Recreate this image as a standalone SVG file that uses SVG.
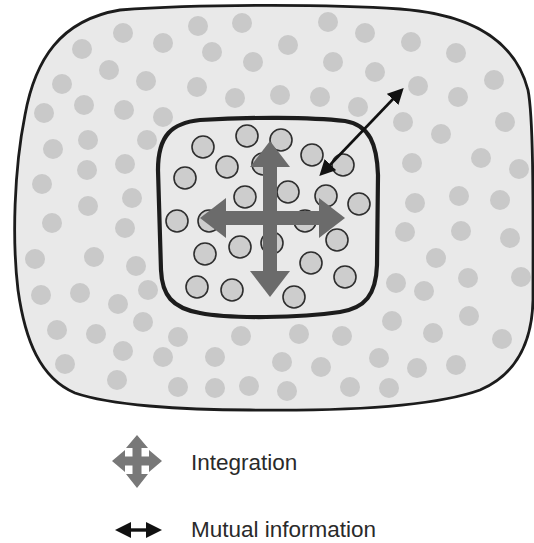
<svg xmlns="http://www.w3.org/2000/svg" width="534" height="543" viewBox="0 0 534 543">
  <style>
    .region { fill: #e9e9e9; stroke: #1c1c1c; stroke-linejoin: round; }
    .outer { stroke-width: 2.8; }
    .inner { stroke-width: 4.2; }
    .od { fill: #c9c9c9; }
    .idot { fill: #cdcdcd; stroke: #2e2e2e; stroke-width: 1.6; }
    .integ { stroke: #6b6b6b; stroke-width: 14; fill: none; }
    .integ-icon { fill: #787878; }
    .mutual { stroke: #111; stroke-width: 2.6; fill: none; }
    .mutual-s { stroke: #111; stroke-width: 3.4; fill: none; }
    .label { font-family: "Liberation Sans", Arial, sans-serif; font-size: 22.5px; fill: #2a2a2a; }
  </style>
  <defs>
    <marker id="headGrayL" viewBox="0 0 26 40" refX="1" refY="20" markerWidth="26" markerHeight="40" markerUnits="userSpaceOnUse" orient="auto-start-reverse">
      <path d="M0,0 L26,20 L0,40 Z" fill="#6b6b6b"/>
    </marker>
    <marker id="headBlack" viewBox="0 0 16 16" refX="2" refY="8" markerWidth="16" markerHeight="16" markerUnits="userSpaceOnUse" orient="auto-start-reverse">
      <path d="M0,0 L16,8 L0,16 Z" fill="#111"/>
    </marker>
  </defs>

  <!-- surrounding system -->
  <g id="environment">
    <path class="region outer" d="M120,10 C200,4 330,4 400,9 C470,14 515,40 528,90 C534,120 533,220 533,300 C532,345 515,375 480,390 C430,408 330,411 250,410 C180,410 110,405 75,393 C40,378 25,340 18,290 C12,240 14,170 25,115 C35,60 60,20 120,10 Z"/>
    <g class="od">
      <circle cx="123" cy="33" r="10"/><circle cx="163" cy="43" r="10"/><circle cx="82" cy="49" r="10"/>
      <circle cx="109" cy="70" r="10"/><circle cx="146" cy="81" r="10"/><circle cx="62" cy="84" r="10"/>
      <circle cx="84" cy="105" r="10"/><circle cx="124" cy="110" r="10"/><circle cx="163" cy="117" r="10"/>
      <circle cx="44" cy="113" r="10"/><circle cx="88" cy="140" r="10"/><circle cx="147" cy="140" r="10"/>
      <circle cx="53" cy="149" r="10"/><circle cx="87" cy="170" r="10"/><circle cx="125" cy="164" r="10"/>
      <circle cx="42" cy="184" r="10"/><circle cx="132" cy="198" r="10"/><circle cx="88" cy="206" r="10"/>
      <circle cx="52" cy="223" r="10"/><circle cx="125" cy="228" r="10"/><circle cx="35" cy="259" r="10"/>
      <circle cx="94" cy="257" r="10"/><circle cx="136" cy="266" r="10"/><circle cx="41" cy="295" r="10"/>
      <circle cx="80" cy="293" r="10"/><circle cx="118" cy="304" r="10"/><circle cx="148" cy="290" r="10"/>
      <circle cx="143" cy="322" r="10"/><circle cx="57" cy="330" r="10"/><circle cx="96" cy="334" r="10"/>
      <circle cx="123" cy="351" r="10"/><circle cx="65" cy="364" r="10"/><circle cx="117" cy="380" r="10"/>
      <circle cx="163" cy="357" r="10"/><circle cx="178" cy="337" r="10"/><circle cx="178" cy="387" r="10"/>
      <circle cx="215" cy="357" r="10"/><circle cx="215" cy="388" r="10"/><circle cx="241" cy="336" r="10"/>
      <circle cx="249" cy="386" r="10"/><circle cx="282" cy="362" r="10"/><circle cx="287" cy="391" r="10"/>
      <circle cx="299" cy="334" r="10"/><circle cx="321" cy="367" r="10"/><circle cx="342" cy="336" r="10"/>
      <circle cx="350" cy="387" r="10"/><circle cx="379" cy="358" r="10"/><circle cx="389" cy="388" r="10"/>
      <circle cx="392" cy="321" r="10"/><circle cx="396" cy="283" r="10"/><circle cx="405" cy="232" r="10"/>
      <circle cx="415" cy="203" r="10"/><circle cx="412" cy="163" r="10"/><circle cx="424" cy="291" r="10"/>
      <circle cx="436" cy="258" r="10"/><circle cx="433" cy="333" r="10"/><circle cx="417" cy="368" r="10"/>
      <circle cx="456" cy="365" r="10"/><circle cx="469" cy="316" r="10"/><circle cx="468" cy="278" r="10"/>
      <circle cx="461" cy="231" r="10"/><circle cx="459" cy="196" r="10"/><circle cx="500" cy="200" r="10"/>
      <circle cx="510" cy="238" r="10"/><circle cx="521" cy="277" r="10"/><circle cx="502" cy="339" r="10"/>
      <circle cx="441" cy="134" r="10"/><circle cx="481" cy="158" r="10"/><circle cx="519" cy="169" r="10"/>
      <circle cx="505" cy="122" r="10"/><circle cx="403" cy="122" r="10"/><circle cx="458" cy="97" r="10"/>
      <circle cx="418" cy="86" r="10"/><circle cx="375" cy="72" r="10"/><circle cx="494" cy="80" r="10"/>
      <circle cx="456" cy="53" r="10"/><circle cx="411" cy="42" r="10"/><circle cx="365" cy="33" r="10"/>
      <circle cx="358" cy="107" r="10"/><circle cx="328" cy="22" r="10"/><circle cx="333" cy="62" r="10"/>
      <circle cx="288" cy="45" r="10"/><circle cx="253" cy="62" r="10"/><circle cx="242" cy="23" r="10"/>
      <circle cx="198" cy="26" r="10"/><circle cx="212" cy="52" r="10"/><circle cx="197" cy="87" r="10"/>
      <circle cx="235" cy="98" r="10"/><circle cx="280" cy="95" r="10"/><circle cx="320" cy="97" r="10"/>
    </g>
  </g>

  <!-- core subsystem -->
  <g id="subsystem">
    <path class="region inner" d="M200,120 C250,117 310,117 345,121 C370,125 377,145 378,175 L377,265 C376,295 365,308 340,312 C300,318 230,319 200,313 C172,308 162,295 161,270 L158,170 C158,135 172,123 200,120 Z"/>
    <g class="idot">
      <circle cx="247" cy="136" r="11"/><circle cx="203" cy="147" r="11"/><circle cx="281" cy="140" r="11"/>
      <circle cx="312" cy="155" r="11"/><circle cx="227" cy="167" r="11"/><circle cx="263" cy="164" r="11"/>
      <circle cx="343" cy="165" r="11"/><circle cx="185" cy="178" r="11"/><circle cx="245" cy="197" r="11"/>
      <circle cx="288" cy="192" r="11"/><circle cx="326" cy="196" r="11"/><circle cx="359" cy="204" r="11"/>
      <circle cx="177" cy="221" r="11"/><circle cx="209" cy="221" r="11"/><circle cx="305" cy="221" r="11"/>
      <circle cx="240" cy="247" r="11"/><circle cx="272" cy="243" r="11"/><circle cx="205" cy="254" r="11"/>
      <circle cx="337" cy="240" r="11"/><circle cx="311" cy="263" r="11"/><circle cx="345" cy="277" r="11"/>
      <circle cx="197" cy="287" r="11"/><circle cx="232" cy="290" r="11"/><circle cx="294" cy="297" r="11"/>
    </g>
  </g>

  <!-- arrows -->
  <g id="connectors">
    <line class="integ" x1="270" y1="166" x2="270" y2="272" marker-start="url(#headGrayL)" marker-end="url(#headGrayL)"/>
    <line class="integ" x1="225" y1="218" x2="320" y2="218" marker-start="url(#headGrayL)" marker-end="url(#headGrayL)"/>
    <line class="mutual" x1="329" y1="166" x2="394" y2="98" marker-start="url(#headBlack)" marker-end="url(#headBlack)"/>
  </g>

  <!-- key -->
  <g id="legend-integration">
    <polygon class="integ-icon" points="137,435 148,448 141.5,448 141.5,456.5 149,456.5 149,450 162,461 149,472 149,465.5 141.5,465.5 141.5,474 148,474 137,488 126,474 132.5,474 132.5,465.5 125,465.5 125,472 112,461 125,450 125,456.5 132.5,456.5 132.5,448 126,448"/>
    <text class="label" x="191" y="470">Integration</text>
  </g>
  <g id="legend-mutual">
    <line class="mutual-s" x1="129" y1="530" x2="148" y2="530" marker-start="url(#headBlack)" marker-end="url(#headBlack)"/>
    <text class="label" x="191" y="537">Mutual information</text>
  </g>
</svg>
